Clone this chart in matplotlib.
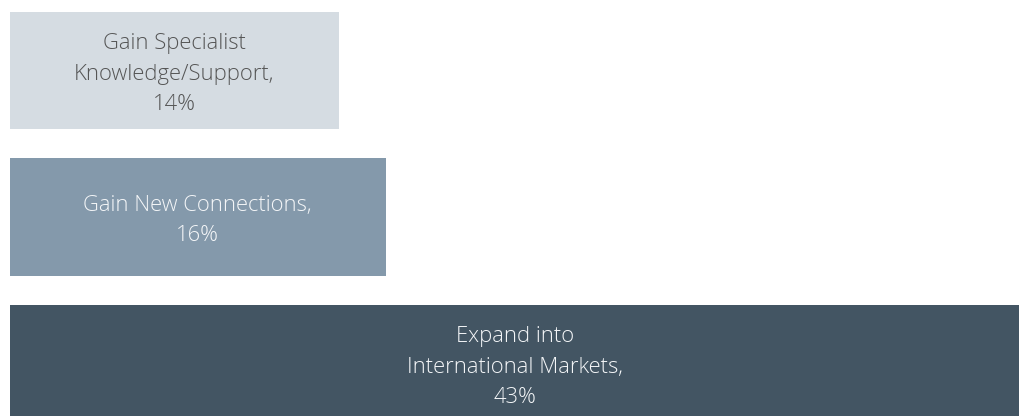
import matplotlib
matplotlib.use("Agg")
from matplotlib import pyplot as plt

labels = ["Gain Specialist\nKnowledge/Support,", "Gain New Connections,", "Expand into\nInternational Markets,"]
values = [14, 16, 43]
bar_colors = ["#d5dce2", "#8499ab", "#435563"]
text_colors = ["#555555", "#f4f6f8", "#f4f6f8"]

plt.rcParams['font.family'] = ['Open Sans', 'DejaVu Sans']

fig = plt.figure(figsize=(10.19, 4.16), dpi=100)
ax = fig.add_axes([0, 0, 1, 1])

pos = list(range(len(values)))
ax.barh(pos, values, height=0.8, left=0, color=bar_colors)

# label each bar with its name and share, centred inside the bar
for y, v, lab, tc in zip(pos, values, labels, text_colors):
	ax.text(v / 2, y + 0.025, '%s\n%d%%' % (lab, v), ha='center', va='center',
		color=tc, fontsize=15.8, fontweight='light', linespacing=1.58)

ax.set_xlim(-10 / 23.47, 1019 / 23.47 - 10 / 23.47)
ax.set_ylim(-0.481 + 416 / 146.5, -0.481)
ax.axis('off')

plt.savefig('out.png', dpi=100)
plt.close()
